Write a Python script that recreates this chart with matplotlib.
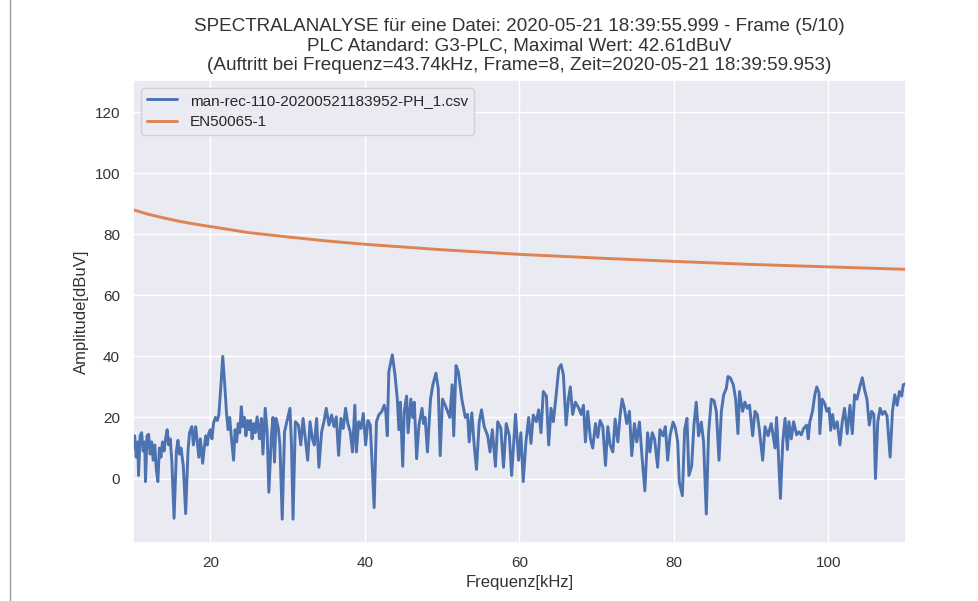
import matplotlib
matplotlib.use("Agg")
import matplotlib.pyplot as plt
import seaborn as sns
from matplotlib.lines import Line2D

# spectrum (frequency in kHz, amplitude in dBuV)
freq_khz = [
    10.0, 10.2, 10.4, 10.6, 10.7, 10.9, 11.1, 11.3, 11.5, 11.6, 11.8, 12.0, 12.2, 12.4, 12.6,
    12.8, 13.0, 13.2, 13.4, 13.6, 13.8, 14.0, 14.2, 14.4, 14.6, 14.8, 15.0, 15.3, 15.6, 15.8,
    16.0, 16.2, 16.5, 16.8, 17.1, 17.3, 17.6, 17.8, 18.1, 18.3, 18.5, 18.7, 19.0, 19.2, 19.4,
    19.6, 19.8, 20.0, 20.2, 20.4, 20.65, 20.9, 21.1, 21.35, 21.6, 21.85, 22.1, 22.3, 22.5, 22.7,
    23.0, 23.2, 23.4, 23.6, 23.8, 24.0, 24.2, 24.4, 24.6, 24.8, 25.0, 25.2, 25.4, 25.6, 25.8,
    26.05, 26.36, 26.6, 26.8, 27.1, 27.35, 27.57, 27.9, 28.1, 28.3, 28.5, 28.8, 29.0, 29.3, 29.6,
    29.9, 30.3, 30.5, 30.7, 31.0, 31.4, 31.7, 32.0, 32.3, 32.6, 32.9, 33.2, 33.45, 33.75, 34.05,
    34.4, 34.7, 35.0, 35.35, 35.7, 36.0, 36.3, 36.6, 36.9, 37.2, 37.5, 37.8, 38.1, 38.4, 38.7,
    38.9, 39.2, 39.5, 39.8, 40.1, 40.4, 40.7, 41.2, 41.5, 41.8, 42.2, 42.5, 42.7, 42.9, 43.1,
    43.55, 43.9, 44.2, 44.4, 44.6, 44.9, 45.1, 45.4, 45.6, 45.95, 46.2, 46.4, 46.7, 47.0, 47.4,
    47.6, 47.8, 48.1, 48.5, 48.8, 49.2, 49.5, 49.75, 50.05, 50.4, 50.7, 51.0, 51.3, 51.5, 51.8,
    52.1, 52.55, 53.0, 53.3, 53.5, 53.85, 54.15, 54.45, 54.8, 55.1, 55.45, 55.9, 56.2, 56.5, 56.9,
    57.2, 57.6, 57.95, 58.3, 58.7, 59.0, 59.5, 59.9, 60.2, 60.5, 60.85, 61.2, 61.5, 61.8, 62.2,
    62.5, 62.8, 63.1, 63.5, 63.8, 64.1, 64.4, 64.75, 65.1, 65.4, 65.7, 66.05, 66.35, 66.6, 66.9,
    67.25, 67.7, 68.0, 68.3, 68.55, 68.85, 69.2, 69.5, 69.85, 70.15, 70.45, 70.8, 71.15, 71.45, 71.75,
    72.1, 72.4, 72.75, 73.05, 73.3, 73.6, 73.9, 74.25, 74.55, 74.9, 75.2, 75.55, 75.9, 76.25, 76.6,
    76.9, 77.2, 77.5, 77.9, 78.2, 78.6, 78.9, 79.2, 79.5, 79.9, 80.2, 80.5, 80.7, 81.1, 81.4,
    81.7, 81.95, 82.3, 82.6, 82.9, 83.2, 83.55, 83.85, 84.2, 84.5, 84.85, 85.2, 85.5, 85.85, 86.15,
    86.45, 86.8, 87.0, 87.3, 87.7, 88.0, 88.3, 88.5, 88.9, 89.2, 89.5, 89.8, 90.2, 90.5, 90.8,
    91.1, 91.5, 91.8, 92.2, 92.6, 93.1, 93.3, 93.5, 93.8, 94.1, 94.4, 94.7, 94.9, 95.2, 95.5,
    95.9, 96.2, 96.5, 96.8, 97.2, 97.4, 97.6, 97.95, 98.25, 98.5, 98.8, 98.9, 99.2, 99.55, 99.8,
    100.1, 100.3, 100.55, 100.8, 101.15, 101.5, 101.8, 102.1, 102.45, 102.8, 103.1, 103.4, 103.7, 104.1, 104.4,
    104.7, 105.0, 105.3, 105.6, 105.9, 106.1, 106.4, 106.7, 107.0, 107.3, 107.6, 108.0, 108.3, 108.6, 108.9,
    109.2, 109.5, 109.7, 110.0,
]
amp_dbuv = [
    10, 14, 7, 12, 1, 14, 15, 9, 12, -1, 14, 14.5, 8, 12, 6,
    11, 3, -1, 10, 7, 12, 9, 13, 16, 11, 13, 6, -13, 9, 12.5,
    8, 10, 4, -11.5, 9, 15, 17, 11, 17, 12, 7, 13, 5, 10, 14,
    11, 15, 16, 13, 18, 20, 19, 21, 30, 40, 31, 21, 16, 20, 14,
    6, 16, 12, 18, 15, 23.5, 17, 20, 14, 19, 16, 19, 13, 18, 15,
    20.2, 13, 19.7, 8, 23, 15.3, -4.5, 14, 20, 5.4, 19.7, 16.4, 11, -13.3, 15.3,
    18.6, 23, 11, -13.3, 18.6, 17.5, 11, 19.7, 13, 6, 18.6, 13, 11, 19.7, 3.7,
    15.3, 18.6, 23, 17.5, 20.8, 17, 20.2, 7.6, 19.7, 16.4, 23, 18, 15.3, 8.7, 24,
    8.7, 18.6, 16.4, 21.3, 11, 19, 17.5, -9.5, 18.6, 20.8, 22, 24, 22, 14, 35,
    40.5, 34, 26, 16, 25, 4, 22, 27, 15, 26, 20, 25, 6.5, 17.5, 23,
    18, 20, 8.7, 26, 30.7, 34.5, 29.5, 7.5, 26, 24, 22, 20, 30.7, 14, 37,
    35, 26, 20, 21, 12, 21.5, 11, 3, 18.5, 22.5, 17, 14, 8.7, 16, 4,
    18.6, 16.5, 3.7, 18, 14, 1, 21, 6, 15, -1, 12, 20, 11.5, 20.8, 18.6,
    22.5, 15, 28.5, 27, 11, 23, 18.6, 27, 36, 37.3, 34, 17.5, 26, 30, 21,
    25, 23, 21, 24, 12, 22, 13, 10, 18, 13.5, 19, 17, 4.3, 17, 11,
    8.7, 19.5, 12, 20.8, 26, 23, 18, 22, 7.5, 18, 12, 18.5, 6.5, -4, 15,
    8.7, 15, 13, 3.7, 16, 14, 17, 6, 14, 18.5, 16.5, 12, -1, -5.6, 16,
    19.7, 1, 4, 17.5, 25, 14, 18.5, 12, -11.6, 15, 26, 25.5, 22, 6, 22,
    27.4, 29.6, 33.4, 33, 30.7, 26, 14.7, 28.5, 22, 25, 23, 24, 14, 22, 21,
    15.3, 6, 17, 14, 18, 10, 20, 10, -6.5, 12, 19.7, 9.5, 18.6, 13, 18.6,
    14.3, 15.3, 14.3, 16.4, 17.5, 13, 18.5, 22, 27.4, 30, 28, 14.7, 26, 24.5, 22,
    23, 15.8, 21, 16.4, 18.6, 11, 18.6, 23, 14.7, 24, 14.7, 27.4, 26, 30.3, 33,
    29, 26, 17.5, 22, 21, 0, 18.6, 23, 21, 22, 20.5, 7, 22, 27.4, 24,
    28.5, 27, 30.7, 31,
]

# EN50065-1 limit
limit_freq_khz = [10, 12, 14, 16, 18, 20, 25, 30, 35, 40, 50, 60, 70, 80, 90, 100, 110]
limit_dbuv = [88.0, 86.5, 85.3, 84.2, 83.3, 82.5, 80.5, 79.1, 77.8, 76.7, 74.9, 73.4, 72.2, 71.1, 70.1, 69.3, 68.5]

title_lines = [
    "SPECTRALANALYSE für eine Datei: 2020-05-21 18:39:55.999 - Frame (5/10)",
    "PLC Atandard: G3-PLC, Maximal Wert: 42.61dBuV",
    "(Auftritt bei Frequenz=43.74kHz, Frame=8, Zeit=2020-05-21 18:39:59.953)",
]

sns.set_theme(style="darkgrid")
plt.rcParams["font.family"] = ["Liberation Sans", "DejaVu Sans"]

fig = plt.figure(figsize=(9.79, 6.01), dpi=100)
ax = fig.add_axes([0.136, 0.097, 0.789, 0.77])

ax.plot(freq_khz, amp_dbuv, color="#4C72B0", linewidth=2.1,
        label="man-rec-110-20200521183952-PH_1.csv")
ax.plot(limit_freq_khz, limit_dbuv, color="#DD8452", linewidth=2.1, label="EN50065-1")

ax.set_xlim(10, 110)
ax.set_ylim(-21, 130.5)
ax.set_xticks([20, 40, 60, 80, 100])
ax.set_yticks([0, 20, 40, 60, 80, 100, 120])
ax.tick_params(labelsize=11, colors="#333333")

ax.set_xlabel("Frequenz[kHz]", fontsize=12, color="#333333")
ax.set_ylabel("Amplitude[dBuV]", fontsize=12, color="#333333")
ax.set_title("\n".join(title_lines), fontsize=13.6, color="#333333", pad=7)

ax.legend(loc="upper left", fontsize=11)

# thin border line at the left edge of the screenshot
fig.add_artist(Line2D([0.0105, 0.0105], [0.0, 1.0], transform=fig.transFigure,
                      color="#999999", linewidth=1))

fig.savefig("out.png", dpi=100)
